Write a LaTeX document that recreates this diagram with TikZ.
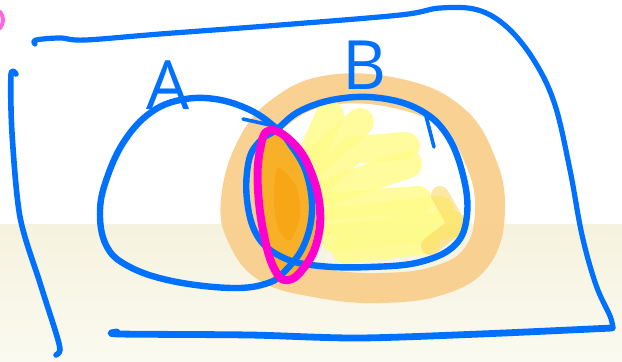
\documentclass[tikz,border=0pt]{standalone}
\usepackage{fontspec}
\setsansfont{Open Sans}
\usetikzlibrary{calc}
\definecolor{cblue}{RGB}{0,112,255}
\definecolor{cpink}{RGB}{255,0,208}
\definecolor{chalo}{RGB}{249,208,142}
\definecolor{cyellow}{RGB}{255,252,140}
\definecolor{cgold}{RGB}{250,214,90}
\definecolor{corangefill}{RGB}{248,176,40}
\definecolor{ccore}{RGB}{247,160,10}
\definecolor{ccreamtop}{RGB}{245,242,222}
\definecolor{ccreambot}{RGB}{251,250,240}
\tikzset{
  every picture/.style={line cap=round, line join=round},
  pen/.style={draw=cblue, line width=#1},
  pen/.default=2.6pt,
  halo/.style={draw=chalo, line width=15pt, opacity=0.95},
  marker/.style={draw=cyellow, line width=14pt, opacity=0.85},
  lens/.style={draw=cpink, line width=4pt},
  letter/.style={text=cblue, font=\sffamily\fontsize{34}{34}\selectfont, inner sep=0pt},
}
\begin{document}
\begin{tikzpicture}[x=0.5pt, y=-0.5pt]
  \useasboundingbox (0,0) rectangle (622,361);
  % paper
  \fill[white] (0,0) rectangle (622,224);
  \shade[top color=ccreamtop, bottom color=ccreambot] (0,224) rectangle (622,361);
  % orange glow round B
  \draw[halo] plot[smooth cycle, tension=0.7] coordinates {
    (236,200) (250,150) (280,112) (330,90) (400,94) (452,118) (480,160)
    (490,208) (478,255) (440,280) (380,288) (320,283) (268,268) (242,236)};
  \fill[chalo] plot[smooth cycle] coordinates {
    (244,200) (252,160) (268,138) (262,240)};
  % yellow shading inside B
  \draw[marker] (314,150) -- (330,115);
  \draw[marker] (312,165) -- (360,122);
  \draw[marker] (318,182) -- (352,150) -- (406,146);
  \draw[marker] (328,192) -- (408,164);
  \draw[marker] (330,206) -- (418,200);
  \draw[marker] (326,222) -- (440,210);
  \draw[marker] (334,238) -- (452,224);
  \draw[marker] (346,250) -- (426,240);
  \draw[draw=cgold, line width=9pt, opacity=0.55] (440,195) -- (457,225) -- (430,246);
  % overlap A and B
  \fill[corangefill] plot[smooth cycle, tension=0.7] coordinates {
    (270,132) (292,146) (308,173) (316,210) (312,244) (300,266) (288,276)
    (278,268) (268,238) (262,190) (263,152)};
  \fill[ccore, opacity=0.6] plot[smooth cycle] coordinates {
    (278,168) (296,186) (300,216) (290,240) (278,228) (274,196)};
  % frame
  \draw[pen] plot[smooth, tension=0.6] coordinates {
    (35,44) (36,40) (60,38) (85,40) (160,34) (280,25) (400,15) (440,8)
    (478,10) (508,28) (535,62) (555,105) (570,170) (582,235) (596,285)
    (610,316) (613,328)};
  \draw[pen=3.4pt] plot[smooth] coordinates {
    (117,332) (120,334) (250,335) (357,338) (480,334) (612,328)};
  \draw[pen=2.8pt] plot[smooth] coordinates {
    (16,74) (11,75) (12,133) (20,217) (40,283) (56,333) (60,350) (56,355)};
  % set A
  \draw[pen=3.2pt] plot[smooth cycle, tension=0.65] coordinates {
    (276,128) (250,110) (215,99) (180,100) (150,113) (125,140) (108,175)
    (100,210) (106,245) (128,266) (172,281) (232,288) (268,283) (286,270)
    (304,245) (312,210) (306,172) (290,144)};
  \draw[pen=1.8pt] (243,119) -- (270,125);
  % set B
  \draw[pen=3.2pt] plot[smooth cycle, tension=0.65] coordinates {
    (276,130) (300,111) (337,99) (380,98) (420,110) (447,135) (463,175)
    (467,215) (455,245) (420,262) (370,267) (320,266) (284,258) (258,237)
    (247,200) (249,160) (261,140)};
  \draw[pen=1.8pt] (426,116) -- (434,147);
  % highlighted overlap
  \draw[lens] plot[smooth cycle, tension=0.7] coordinates {
    (270,130) (294,144) (311,172) (320,210) (316,245) (302,270) (288,280)
    (276,272) (265,240) (258,190) (260,150)};
  % labels
  \node[letter] (labelA) at (168,85) {A};
  \node[letter] (labelB) at (365,65) {B};
  % stray mark at the left edge
  \draw[cpink, line width=2pt, opacity=0.6] (0,12) to[bend left=40] (0,28);
\end{tikzpicture}
\end{document}
